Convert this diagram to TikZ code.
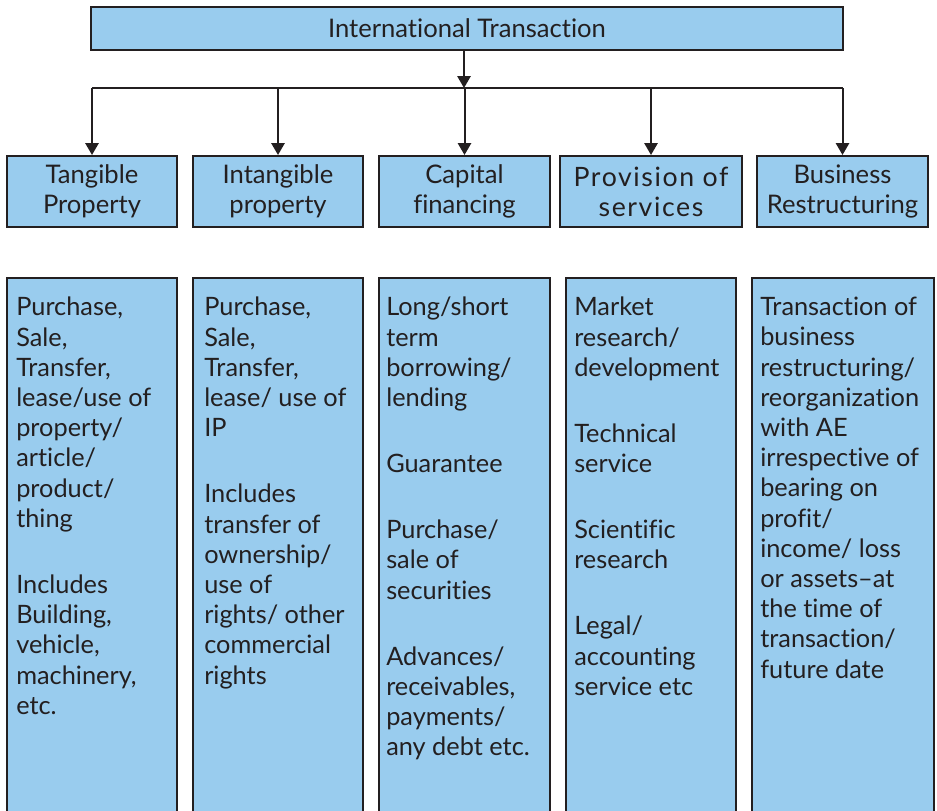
\documentclass[tikz,border=0pt]{standalone}
\usepackage{fontspec}
\setmainfont{Lato}[Ligatures=NoCommon]
\usetikzlibrary{arrows.meta}
\definecolor{boxblue}{HTML}{99CCEE}
\definecolor{ink}{HTML}{231F20}
\begin{document}
\begin{tikzpicture}[x=0.75pt,y=-0.75pt,
  box/.style={draw=ink, line width=1.5pt, fill=boxblue, inner sep=0pt, text=ink,
    align=center, font=\fontsize{19.2}{22.4}\selectfont},
  txt/.style={inner sep=0pt, text=ink, align=left, anchor=north west,
    font=\fontsize{19}{22.65}\selectfont},
  conn/.style={draw=ink, line width=1.5pt},
  arr/.style={conn, -{Triangle[width=10pt,length=9pt]}}]
\useasboundingbox (0,0) rectangle (937,810);
\clip (0,0) rectangle (937,810);
\def\gap{\\[26.9pt]}
% top
\node[box, minimum width=752*0.75pt, minimum height=43*0.75pt] (top) at (467,28.5) {International Transaction};
% level 2
\node[box, minimum width=170*0.75pt, minimum height=71*0.75pt] (t1) at (92,191.5) {Tangible\\Property};
\node[box, minimum width=170*0.75pt, minimum height=71*0.75pt] (t2) at (278,191.5) {Intangible\\property};
\node[box, minimum width=171*0.75pt, minimum height=71*0.75pt] (t3) at (464.5,191.5) {Capital\\financing};
\node[box, minimum width=182*0.75pt, minimum height=71*0.75pt, font=\fontsize{20}{22.5}\selectfont\addfontfeatures{LetterSpace=6}] (t4) at (651,191.5) {Provision of\\services};
\node[box, minimum width=171*0.75pt, minimum height=71*0.75pt] (t5) at (842.5,191.5) {Business\\Restructuring};
% connectors
\coordinate (j) at (464,88);
\coordinate (hl) at (92,88);
\coordinate (hr) at (843,88);
\draw[arr] (top.south -| j) -- (j);
\draw[conn] (hl) -- (hr);
\draw[arr] (t1.north |- j) -- (t1.north);
\draw[arr] (t2.north |- j) -- (t2.north);
\draw[arr] (t3.north |- j) -- (t3.north);
\draw[arr] (t4.north |- j) -- (t4.north);
\draw[arr] (t5.north |- j) -- (t5.north);
% lower boxes
\node[box, minimum width=170*0.75pt, minimum height=540*0.75pt] (b1) at (92,548) {};
\node[box, minimum width=170*0.75pt, minimum height=540*0.75pt] (b2) at (278,548) {};
\node[box, minimum width=171*0.75pt, minimum height=540*0.75pt] (b3) at (464.5,548) {};
\node[box, minimum width=170*0.75pt, minimum height=540*0.75pt] (b4) at (651,548) {};
\node[box, minimum width=182*0.75pt, minimum height=540*0.75pt] (b5) at (843,548) {};
% texts
\node[txt] (d1) at (16,297) {Purchase,\\Sale,\\Transfer,\\lease/use of\\property/\\article/\\product/\\thing\gap Includes\\Building,\\vehicle,\\machinery,\\etc.};
\node[txt] (d2) at (204,297) {Purchase,\\Sale,\\Transfer,\\lease/ use of\\IP\gap Includes\\transfer of\\ownership/\\use of\\rights/ other\\commercial\\rights};
\node[txt] (d3) at (386,297) {Long/short\\term\\borrowing/\\lending\gap Guarantee\gap Purchase/\\sale of\\securities\gap Advances/\\receivables,\\payments/\\any debt etc.};
\node[txt] (d4) at (574,297) {Market\\research/\\development\gap Technical\\service\gap Scientific\\research\gap Legal/\\accounting\\service etc};
\node[txt] (d5) at (760,297) {Transaction of\\business\\restructuring/\\reorganization\\with AE\\irrespective of\\bearing on\\profit/\\income/ loss\\or assets–at\\the time of\\transaction/\\future date};
\end{tikzpicture}
\end{document}
